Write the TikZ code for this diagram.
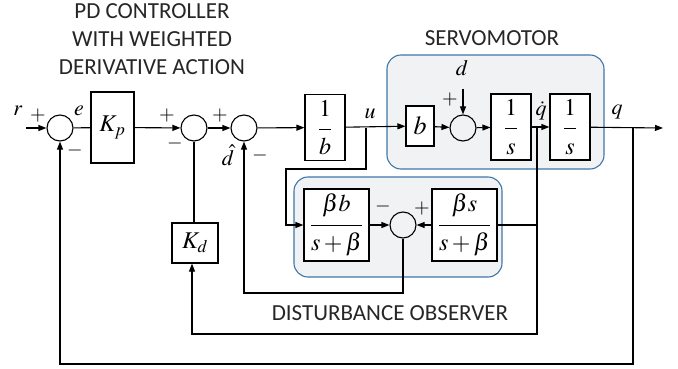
\documentclass[tikz,border=0pt]{standalone}
\usepackage{mathptmx}
\usepackage{fontspec}
\setmainfont{Carlito}
\usetikzlibrary{arrows.meta}
\definecolor{grpfill}{HTML}{F1F2F4}
\definecolor{grpline}{HTML}{3F77AA}
\newcommand{\myfr}[2]{\displaystyle\frac{\raisebox{3pt}{$#1$}}{\raisebox{-3pt}{$#2$}}}
\begin{document}
\begin{tikzpicture}[x=1pt,y=-1pt,
  line width=1.1pt,
  >={Triangle[length=8pt,width=6pt]},
  sumc/.style={draw,circle,minimum size=26pt,inner sep=0pt},
  blk/.style={draw,rectangle,inner sep=0pt,fill=white},
  frc/.style={font=\fontsize{24}{28}\selectfont},
  grp/.style={draw=grpline,fill=grpfill,rounded corners=14pt,line width=1.1pt},
  lbl/.style={inner sep=0pt,anchor=base,font=\fontsize{22}{26}\selectfont},
  sgn/.style={inner sep=0pt,anchor=base,font=\fontsize{20}{22}\selectfont},
  ttl/.style={inner sep=0pt,font=\fontsize{23}{28}\selectfont,align=center,text=black!85}]
\useasboundingbox (0,0) rectangle (678,369);
% groups
\draw[grp] (387,55) rectangle (604,169);
\draw[grp] (294,177) rectangle (502,277);
% titles
\node[ttl] (t1) at (152,39) {PD CONTROLLER\\WITH WEIGHTED\\DERIVATIVE ACTION};
\node[ttl] (t2) at (492,38) {SERVOMOTOR};
\node[ttl] (t3) at (390,313) {DISTURBANCE OBSERVER};
% blocks
\node[sumc] (s1) at (60,128) {};
\node[blk,minimum width=43pt,minimum height=71pt,font=\fontsize{24}{26}\selectfont] (kp) at (112.5,127.5) {$K_p$};
\node[sumc] (s2) at (194,128) {};
\node[sumc] (s3) at (244,128) {};
\node[blk,frc,minimum width=40pt,minimum height=66pt] (binv) at (325,127.5) {$\myfr{1}{b}$};
\node[blk,minimum width=28pt,minimum height=40pt,font=\fontsize{26}{28}\selectfont] (bb) at (420,126) {$b$};
\node[sumc] (s4) at (463,128) {};
\node[blk,frc,minimum width=40pt,minimum height=66pt] (i1) at (511,127) {$\myfr{1}{s}$};
\node[blk,frc,minimum width=40pt,minimum height=66pt] (i2) at (570,127) {$\myfr{1}{s}$};
\node[blk,frc,minimum width=65pt,minimum height=72pt] (fb) at (336.5,225) {$\myfr{\beta b}{s+\beta}$};
\node[sumc] (s5) at (403,225) {};
\node[blk,frc,minimum width=65pt,minimum height=72pt] (fs) at (464.5,225) {$\myfr{\beta s}{s+\beta}$};
\node[blk,minimum width=46pt,minimum height=40pt,font=\fontsize{24}{26}\selectfont] (kd) at (195,243) {$K_d$};
% coordinates
\coordinate (rin) at (26,128);
\coordinate (dtop) at (463,89);
\coordinate (ub) at (366,128);
\coordinate (u1) at (366,169);
\coordinate (u2) at (286,169);
\coordinate (qdb) at (537,128);
\coordinate (qd1) at (537,334);
\coordinate (kd1) at (192,334);
\coordinate (qb) at (633,128);
\coordinate (q1) at (633,364);
\coordinate (q2) at (60,364);
\coordinate (out) at (663,128);
\coordinate (h1) at (403,293);
\coordinate (h2) at (244,293);
% connectors
\draw[->] (rin) -- (s1);
\draw (s1) -- (kp);
\draw[->] (kp) -- (s2);
\draw[->] (s2) -- (s3);
\draw[->] (s3) -- (binv);
\draw[->] (binv) -- (bb);
\draw[->] (bb) -- (s4);
\draw[->] (dtop) -- (s4);
\draw[->] (s4) -- (i1);
\draw[->] (i1) -- (i2);
\draw[->] (i2) -- (out);
\draw[->] (ub) -- (u1) -- (u2) |- (fb.west);
\draw[->] (fb) -- (s5);
\draw[->] (fs) -- (s5);
\draw (fs.east) -- (fs.east -| qdb);
\draw[->] (qdb) -- (qd1) -- (kd1) -- (kd.south -| kd1);
\draw (kd.north -| s2) -- (s2.south);
\draw[->] (s5.south) -- (h1) -- (h2) -- (s3.south);
\draw[->] (qb) -- (q1) -- (q2) -- (s1.south);
% labels (baseline positions)
\node[lbl] (lr) at (18,115) {$r$};
\node[lbl] (le) at (79,116) {$e$};
\node[lbl] (lu) at (370,118) {$u$};
\node[lbl] (ld) at (462,76) {$d$};
\node[lbl] (lqd) at (541,116) {$\dot q$};
\node[lbl] (lq) at (617,114) {$q$};
\node[lbl] (ldh) at (228,165) {$\hat d$};
\node[sgn] (p1) at (38,121) {$+$};
\node[sgn] (m1) at (75,155) {$-$};
\node[sgn] (p2) at (167,121) {$+$};
\node[sgn] (m2) at (175,148) {$-$};
\node[sgn] (p3) at (220,121) {$+$};
\node[sgn] (m3) at (260,160) {$-$};
\node[sgn] (p4) at (450,105) {$+$};
\node[sgn] (m5) at (383,211) {$-$};
\node[sgn] (p5) at (422,213) {$+$};
\end{tikzpicture}
\end{document}
